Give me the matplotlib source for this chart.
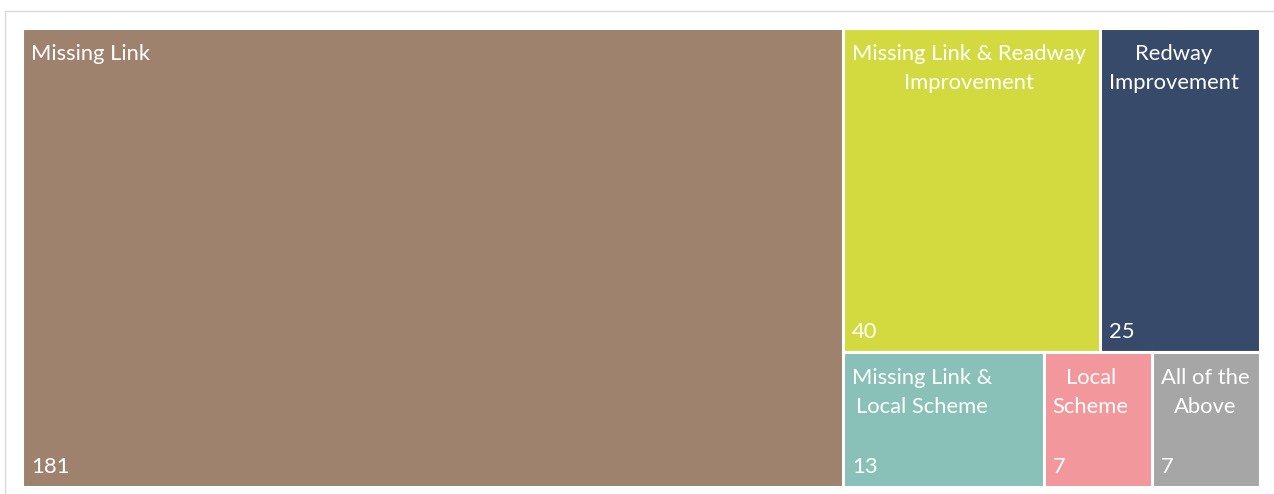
import matplotlib.pyplot as plt
from matplotlib.patches import Rectangle
from matplotlib.lines import Line2D

# Data
labels = ["Missing Link", "Missing Link & Readway\nImprovement", "Redway\nImprovement",
          "Missing Link &\nLocal Scheme", "Local\nScheme", "All of the\nAbove"]
values = [181, 40, 25, 13, 7, 7]
colors = ["#9E826E", "#D3DA40", "#374A6A", "#89C0B7", "#F2979B", "#A6A6A6"]

W, H = 1238.0, 459.0  # plot area in pixels


def worst(row, side, total_area, total_val):
    s = sum(row)
    length = s / total_val * total_area / side
    r = []
    for v in row:
        a = v / total_val * total_area
        h = a / length
        r.append(max(length / h, h / length))
    return max(r)


def squarify(vals, x, y, w, h):
    # returns list of (x, y, w, h) in same order as vals (sorted desc)
    rects = []
    vals = list(vals)
    while vals:
        tot = sum(vals)
        area = w * h
        side = min(w, h)
        row = [vals[0]]
        i = 1
        while i < len(vals):
            if worst(row + [vals[i]], side, area, tot) <= worst(row, side, area, tot):
                row.append(vals[i])
                i += 1
            else:
                break
        frac = sum(row) / tot
        if w >= h:
            # vertical strip on the left
            sw = w * frac
            yy = y
            for v in row:
                hh = h * v / sum(row)
                rects.append((x, yy, sw, hh))
                yy += hh
            x += sw
            w -= sw
        else:
            # horizontal strip on top
            sh = h * frac
            xx = x
            for v in row:
                ww = w * v / sum(row)
                rects.append((xx, y, ww, sh))
                xx += ww
            y += sh
            h -= sh
        vals = vals[len(row):]
    return rects


rects = squarify(values, 0, 0, W, H)

fig = plt.figure(figsize=(12.74, 4.94), dpi=100)
plt.rcParams['font.family'] = ['Lato', 'DejaVu Sans']

# light outer frame
fig.add_artist(Line2D([5 / 1274, 5 / 1274], [0, 1 - 11 / 494], color="#D9D9D9", lw=1))
fig.add_artist(Line2D([5 / 1274, 1], [1 - 11 / 494, 1 - 11 / 494], color="#D9D9D9", lw=1))

ax = fig.add_axes([22 / 1274, 7 / 494, W / 1274, H / 494])
ax.set_xlim(0, W)
ax.set_ylim(H, 0)
ax.axis("off")

for (x, y, w, h), lab, val, c in zip(rects, labels, values, colors):
    ax.add_patch(Rectangle((x, y), w, h, facecolor=c, edgecolor="white", lw=2.2))
    ax.text(x + 9, y + 16, lab, color="white", fontsize=15.8, ha="left", va="top",
            multialignment="center", linespacing=1.55)
    ax.text(x + 9, y + h - 10, str(val), color="white", fontsize=15.8, ha="left", va="bottom")

plt.savefig("out.png", dpi=100)
